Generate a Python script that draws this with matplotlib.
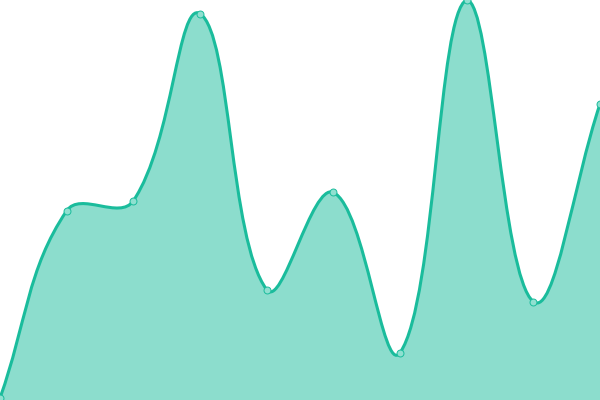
import numpy as np
import matplotlib
matplotlib.use('Agg')
import matplotlib.pyplot as plt
from matplotlib.path import Path
from matplotlib.patches import PathPatch

# data (y axis runs 0..100 over the full height)
labels = ['1', '2', '3', '4', '5', '6', '7', '8', '9', '10']
values = [0.5, 47.3, 49.8, 96.6, 27.6, 51.9, 11.8, 100, 24.6, 74]

line_color = '#1abc9c'
fill_color = (26 / 255, 188 / 255, 156 / 255, 0.5)
point_face = '#8fe0d0'
tension = 0.4

fig = plt.figure(figsize=(6, 4), dpi=100)
ax = fig.add_axes([0, 0, 1, 1])
ax.set_xlim(0, len(values) - 1)
ax.set_ylim(0, 100)
ax.axis('off')

x = np.arange(len(values), dtype=float)
y = np.asarray(values, dtype=float)

# spline control points are worked out in pixel space, like chart.js does
pts = ax.transData.transform(np.column_stack([x, y]))
bbox = ax.bbox
n = len(pts)
cp_prev = np.zeros_like(pts)
cp_next = np.zeros_like(pts)
for i in range(n):
    prev = pts[max(i - 1, 0)]
    cur = pts[i]
    nxt = pts[min(i + 1, n - 1)]
    d01 = np.hypot(*(cur - prev))
    d12 = np.hypot(*(nxt - cur))
    s01 = d01 / (d01 + d12) if d01 + d12 else 0
    s12 = d12 / (d01 + d12) if d01 + d12 else 0
    cp_prev[i] = cur - tension * s01 * (nxt - prev)
    cp_next[i] = cur + tension * s12 * (nxt - prev)

# keep control points inside the chart area
for cp in (cp_prev, cp_next):
    cp[:, 0] = np.clip(cp[:, 0], bbox.x0, bbox.x1)
    cp[:, 1] = np.clip(cp[:, 1], bbox.y0, bbox.y1)

inv = ax.transData.inverted()
cp_prev = inv.transform(cp_prev)
cp_next = inv.transform(cp_next)

verts = [(x[0], y[0])]
codes = [Path.MOVETO]
for i in range(1, n):
    verts += [tuple(cp_next[i - 1]), tuple(cp_prev[i]), (x[i], y[i])]
    codes += [Path.CURVE4] * 3

line_path = Path(verts, codes)
area_path = Path(verts + [(x[-1], 0), (x[0], 0), (x[0], y[0])],
                 codes + [Path.LINETO, Path.LINETO, Path.CLOSEPOLY])

ax.add_patch(PathPatch(area_path, facecolor=fill_color, edgecolor='none'))
ax.add_patch(PathPatch(line_path, facecolor='none', edgecolor=line_color,
                       linewidth=2.2, capstyle='round', joinstyle='round'))
ax.plot(x, y, linestyle='none', marker='o', markersize=5,
        markerfacecolor=point_face, markeredgecolor=line_color,
        markeredgewidth=0.7, zorder=3)

fig.savefig('out.png', dpi=100)
